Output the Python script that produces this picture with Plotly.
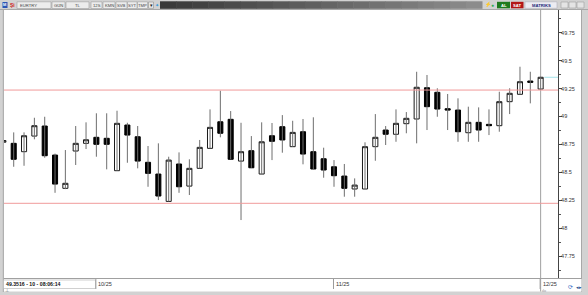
import plotly.graph_objects as go

# ---------------- data ----------------
bar_index = list(range(53))
opens = [48.770, 48.760, 48.685, 48.825, 48.915, 48.655, 48.357, 48.691, 48.760, 48.814,
         48.805, 48.515, 48.924, 48.819, 48.590, 48.485, 48.240, 48.575, 48.377, 48.536,
         48.715, 48.953, 48.975, 48.601, 48.694, 48.485, 48.828, 48.909, 48.730, 48.864,
         48.685, 48.622, 48.550, 48.467, 48.351, 48.351, 48.730, 48.879, 48.841, 48.936,
         48.978, 49.258, 49.217, 49.070, 49.058, 48.855, 48.948, 48.930, 48.918, 49.133,
         49.199, 49.318, 49.246]
highs = [48.850, 48.858, 48.858, 48.989, 48.998, 48.668, 48.700, 48.915, 48.948, 49.029,
         49.029, 49.052, 48.944, 48.915, 48.736, 48.760, 48.640, 48.679, 48.617, 48.790,
         49.064, 49.231, 49.049, 48.944, 48.825, 48.948, 48.942, 49.013, 48.962, 48.978,
         48.993, 48.721, 48.610, 48.575, 48.446, 48.769, 49.022, 48.915, 49.064, 49.040,
         49.401, 49.372, 49.253, 49.202, 49.163, 49.088, 49.082, 49.064, 49.222, 49.253,
         49.446, 49.401, 49.3516]
lows = [48.700, 48.550, 48.559, 48.796, 48.631, 48.317, 48.350, 48.566, 48.709, 48.640,
        48.527, 48.515, 48.586, 48.536, 48.371, 48.252, 48.240, 48.317, 48.297, 48.536,
        48.715, 48.814, 48.617, 48.073, 48.541, 48.485, 48.610, 48.676, 48.730, 48.572,
        48.530, 48.452, 48.371, 48.282, 48.282, 48.351, 48.604, 48.745, 48.774, 48.850,
        48.760, 48.879, 48.998, 48.879, 48.774, 48.774, 48.774, 48.834, 48.864, 49.022,
        49.199, 49.118, 49.246]
closes = [48.785, 48.617, 48.828, 48.918, 48.649, 48.395, 48.402, 48.760, 48.792, 48.751,
          48.751, 48.939, 48.834, 48.601, 48.491, 48.288, 48.610, 48.371, 48.536, 48.724,
          48.903, 48.850, 48.617, 48.685, 48.541, 48.774, 48.778, 48.790, 48.858, 48.664,
          48.530, 48.521, 48.470, 48.357, 48.386, 48.730, 48.814, 48.841, 48.939, 48.984,
          49.262, 49.088, 49.067, 49.058, 48.864, 48.948, 48.879, 48.918, 49.133, 49.208,
          49.312, 49.306, 49.3516]

level_lines = [49.237, 48.223]
last_price = 49.3516
status_text = "49.3516 - 10 - 08:06:14"

date_label_idx = [9, 32, 52]
date_labels = ["10/25", "11/25", "12/25"]

y_tick_vals = [47.75, 48.0, 48.25, 48.5, 48.75, 49.0, 49.25, 49.5, 49.75]
y_tick_labels = ["47.75", "48", "48.25", "48.5", "48.75", "49", "49.25", "49.5", "49.75"]

X_RANGE = [0.06, 53.68]
Y_RANGE = [47.554, 49.954]

# ---------------- geometry helpers (pixels -> paper) ----------------
W, H = 588, 295
ML, MR, MT, MB = 4, 30, 10, 17
PW, PH = W - ML - MR, H - MT - MB


def PX(px):
    return (px - ML) / PW


def PY(py):
    return (H - MB - py) / PH


shapes = []
annotations = []


def rect(x0, y0, x1, y1, fill, line=None, lw=0, layer="below"):
    shapes.append(dict(type="rect", xref="paper", yref="paper",
                       x0=PX(x0), x1=PX(x1), y0=PY(y1), y1=PY(y0),
                       fillcolor=fill, layer=layer,
                       line=dict(color=line or fill, width=lw)))


def hline(x0, x1, y, color, lw=1, layer="below"):
    shapes.append(dict(type="line", xref="paper", yref="paper",
                       x0=PX(x0), x1=PX(x1), y0=PY(y), y1=PY(y),
                       line=dict(color=color, width=lw), layer=layer))


def vline(x, y0, y1, color, lw=1, layer="below"):
    shapes.append(dict(type="line", xref="paper", yref="paper",
                       x0=PX(x), x1=PX(x), y0=PY(y0), y1=PY(y1),
                       line=dict(color=color, width=lw), layer=layer))


def txt(x, y, s, size=5.5, color="#222222", anchor="left", bold=False):
    annotations.append(dict(xref="paper", yref="paper", x=PX(x), y=PY(y),
                            text=f"<b>{s}</b>" if bold else s, showarrow=False,
                            xanchor=anchor, yanchor="middle",
                            font=dict(size=size, color=color, family="Liberation Sans"),
                            borderpad=0))


# ---------------- window chrome ----------------
rect(558, 10, 581.5, 278, "white")
vline(581.5, 10, 292, "#a8a8a8")
rect(3.5, 279, 581.5, 291.5, "white")
hline(3.5, 581.5, 278.5, "#a0a0a0")
vline(3.3, 10, 292, "#a8a8a8")
rect(3.5, 280, 95.5, 288.5, "white", "#b0b0b0", 0.6)
txt(4.5, 284.2, status_text, size=5.2, color="#111111", bold=True)
txt(4, 290, "⊥", size=4.5, color="#777777")
txt(541, 290, "ılıı", size=4, color="#888888")
txt(567, 286.5, "⟳", size=6, color="#2a5fc0")
txt(575, 286.5, "◂▸", size=5, color="#2a4f90")

# top toolbar
hline(0, 588, 9.5, "#a8a8a8")
n_steps = 20
for k in range(n_steps):
    g = int(0x3a + (0x8c - 0x3a) * k / (n_steps - 1))
    col = f"#{g:02x}{g:02x}{g:02x}"
    x0 = 160 + (482 - 160) * k / n_steps
    x1 = 160 + (482 - 160) * (k + 1) / n_steps + 0.5
    rect(x0, 1.3, x1, 8.8, col)
rect(2.5, 2, 7.5, 8, "#2a55b5")
txt(5, 5, "M", size=4, color="white", anchor="center", bold=True)
txt(8.5, 5, "Şi", size=5, color="#d02020", bold=True)
tabs = [(17, 51, "EURTRY", "left"), (52, 65, "GÜN", "center"), (66, 89, "TL", "center"),
        (91, 102, "12S", "center"), (103, 115, "KMN", "center"), (116, 127, "SVB", "center"),
        (127.5, 137, "SYT", "center"), (137.5, 147.5, "TMP", "center")]
for x0, x1, lab, anc in tabs:
    rect(x0, 1.8, x1, 8.5, "#ececec", "#a0a0a0", 0.6)
    txt(x0 + 1.5 if anc == "left" else (x0 + x1) / 2, 5.2, lab, size=4.2,
        color="#444444", anchor=anc)
rect(148.5, 2, 153.5, 8.3, "#e8e8e8", "#909090", 0.6)
txt(151, 5.2, "▾", size=4.5, color="#222222", anchor="center")
txt(154, 5.2, "✦", size=5, color="#3a9ad9")
txt(484, 5, "⚡", size=5, color="#e0b000")
txt(490, 5, "●", size=5, color="#33aa55")
rect(497, 1.8, 510, 8.3, "#1f7a1f")
txt(503.5, 5.1, "AL", size=4.2, color="white", anchor="center", bold=True)
rect(511, 1.8, 523.5, 8.3, "#b31616")
txt(517.2, 5.1, "SAT", size=4.2, color="white", anchor="center", bold=True)
rect(525, 1.8, 557, 8.3, "#ececf2", "#b0b0b8", 0.6)
txt(541, 5.1, "MATRIKS", size=4.2, color="#1c2a78", anchor="center", bold=True)
for bx in (561, 569, 577):
    rect(bx, 2, bx + 7, 8, "#e4e4e4", "#a0a0a0", 0.6)

# date labels in status bar
for idx, lab in zip(date_label_idx, date_labels):
    shapes.append(dict(type="line", xref="x", yref="paper", x0=idx - 0.05, x1=idx - 0.05,
                       y0=PY(289), y1=PY(279), line=dict(color="#9a9a9a", width=1),
                       layer="below"))
    annotations.append(dict(xref="x", yref="paper", x=idx, y=PY(283.8), text=lab,
                            showarrow=False, xanchor="left", yanchor="middle", xshift=1,
                            font=dict(size=5.5, color="#333333", family="Liberation Sans"),
                            borderpad=0))

# current-bar vertical line
shapes.append(dict(type="line", xref="x", yref="paper", x0=bar_index[-1], x1=bar_index[-1],
                   y0=PY(291.5), y1=PY(9.3), line=dict(color="#a0a0a0", width=1),
                   layer="below"))

# support / resistance lines and last price marker
for lv in level_lines:
    shapes.append(dict(type="line", xref="paper", yref="y", x0=0, x1=1, y0=lv, y1=lv,
                       line=dict(color="#f19a9a", width=1), layer="above"))
shapes.append(dict(type="line", xref="x", yref="y", x0=bar_index[-1] + 0.36, x1=X_RANGE[1],
                   y0=last_price, y1=last_price, line=dict(color="#a6e4ea", width=1),
                   layer="above"))

# ---------------- traces ----------------
wick_x, wick_y = [], []
for i, h, l in zip(bar_index, highs, lows):
    wick_x += [i, i, None]
    wick_y += [l, h, None]

body_hi = [max(o, c) for o, c in zip(opens, closes)]
body_lo = [min(o, c) for o, c in zip(opens, closes)]

fig = go.Figure()
fig.add_trace(go.Scatter(x=wick_x, y=wick_y, mode="lines",
                         line=dict(color="#6e6e6e", width=1), hoverinfo="skip",
                         showlegend=False))
fig.add_trace(go.Candlestick(
    x=bar_index, open=opens, high=body_hi, low=body_lo, close=closes,
    increasing=dict(line=dict(color="#1a1a1a", width=1), fillcolor="white"),
    decreasing=dict(line=dict(color="#000000", width=1), fillcolor="#000000"),
    whiskerwidth=0, showlegend=False))

fig.update_layout(
    width=W, height=H,
    margin=dict(l=ML, r=MR, t=MT, b=MB, pad=0),
    paper_bgcolor="#d2d2d2", plot_bgcolor="white",
    showlegend=False,
    shapes=shapes, annotations=annotations,
    xaxis=dict(range=X_RANGE, visible=False, rangeslider=dict(visible=False),
               showgrid=False, zeroline=False, fixedrange=True),
    yaxis=dict(range=Y_RANGE, side="right", showgrid=False, zeroline=False,
               showline=True, linecolor="#444444", linewidth=1,
               tickmode="array", tickvals=y_tick_vals, ticktext=y_tick_labels,
               ticks="outside", ticklen=3, tickcolor="#444444", tickwidth=1,
               ticklabelstandoff=-2,
               tickfont=dict(size=5.5, color="#333333", family="Liberation Sans"),
               minor=dict(tickmode="linear", tick0=47.5, dtick=0.125, ticks="outside",
                          ticklen=2, tickcolor="#555555"),
               fixedrange=True),
)

fig.write_html("out.html")
